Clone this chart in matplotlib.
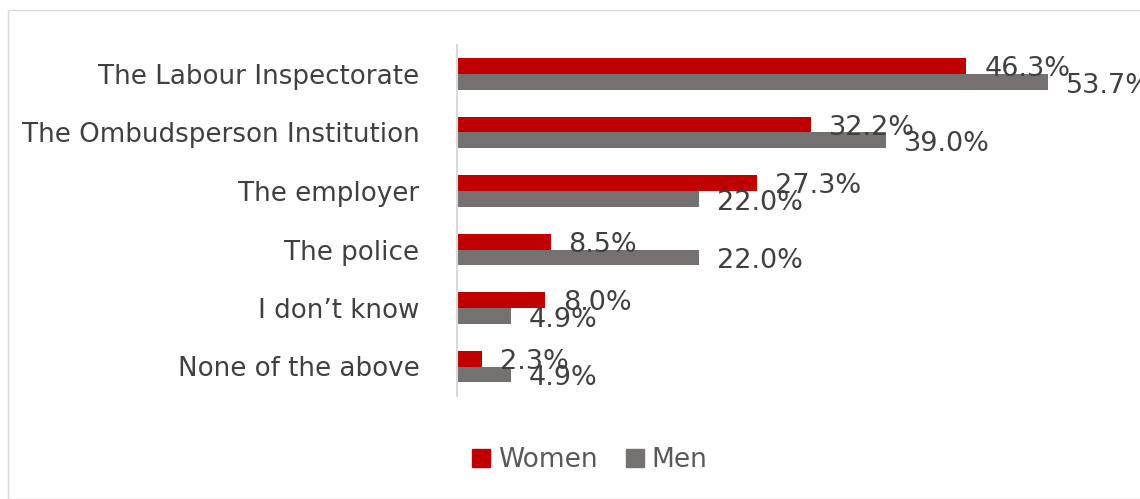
import matplotlib.pyplot as plt
from matplotlib.patches import Rectangle, Patch

categories = ["The Labour Inspectorate", "The Ombudsperson Institution", "The employer",
              "The police", "I don\u2019t know", "None of the above"]
women = [46.3, 32.2, 27.3, 8.5, 8.0, 2.3]
men = [53.7, 39.0, 22.0, 22.0, 4.9, 4.9]

RED = "#C00000"
GREY = "#767171"
TXT = "#404040"

fig = plt.figure(figsize=(11.4, 4.99), dpi=100)
W, H = 1140, 499

# axes placed by pixel estimates from the reference
ax = fig.add_axes([457 / W, 1 - 395.75 / H, (1100 - 457) / W, (395.75 - 44.75) / H])
xmax = (1100 - 457) / 11.0

n = len(categories)
pos = [n - 1 - i for i in range(n)]
h = 0.265
ax.barh([p + h / 2 for p in pos], women, height=h, color=RED, label="Women")
ax.barh([p - h / 2 for p in pos], men, height=h, color=GREY, label="Men")

for p, w, m in zip(pos, women, men):
    ax.annotate(f"{w:.1f}%", (w, p + h / 2), xytext=(13, -2), textcoords="offset points",
                va="center", ha="left", fontsize=19.5, color=TXT, annotation_clip=False)
    ax.annotate(f"{m:.1f}%", (m, p - h / 2), xytext=(13, -3), textcoords="offset points",
                va="center", ha="left", fontsize=19.5, color=TXT, annotation_clip=False)

ax.set_xlim(0, xmax)
ax.set_ylim(-0.5, n - 0.5)
ax.set_yticks(pos)
ax.set_yticklabels(categories, fontsize=18.8, color=TXT)
ax.tick_params(axis="y", length=0, pad=27)
ax.set_xticks([])
for s in ["top", "right", "bottom"]:
    ax.spines[s].set_visible(False)
ax.spines["left"].set_color("#D9D9D9")
ax.spines["left"].set_linewidth(1.5)

handles = [Patch(color=RED, label="Women"), Patch(color=GREY, label="Men")]
fig.legend(handles=handles, loc="center", bbox_to_anchor=(590 / W, 1 - 460 / H), ncol=2,
           frameon=False, fontsize=19, handlelength=0.66, handleheight=0.66,
           handletextpad=0.3, columnspacing=1.1, labelcolor="#595959")

fig.patches.append(Rectangle((8 / W, 0), 1.2, 1 - 10 / H, transform=fig.transFigure,
                             fill=False, edgecolor="#D9D9D9", linewidth=1))

fig.savefig("out.png", dpi=100)
